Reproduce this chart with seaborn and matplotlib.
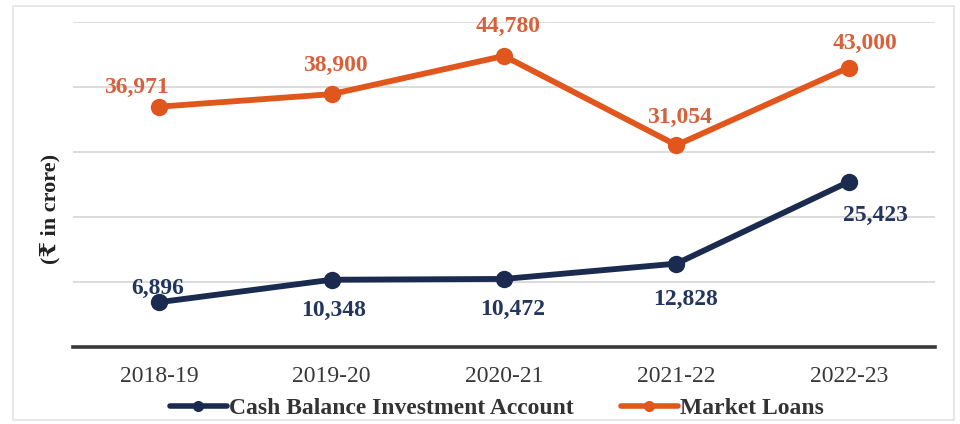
import matplotlib
matplotlib.use("Agg")
import matplotlib.pyplot as plt
import seaborn as sns
import pandas as pd
from matplotlib.patches import Rectangle

years = ["2018-19", "2019-20", "2020-21", "2021-22", "2022-23"]
cbia = [6896, 10348, 10472, 12828, 25423]
market_loans = [36971, 38900, 44780, 31054, 43000]
series_names = ["Cash Balance Investment Account", "Market Loans"]

df = pd.DataFrame({
    "year": years * 2,
    "value": cbia + market_loans,
    "series": [series_names[0]] * len(years) + [series_names[1]] * len(years),
})

sns.set_theme(style="white")
plt.rcParams["font.family"] = ["Liberation Serif", "DejaVu Serif", "DejaVu Sans"]

navy = "#1B2B4F"
orange = "#E0561C"
navy_txt = "#24365E"
orange_txt = "#D8603A"

fig = plt.figure(figsize=(9.6, 4.24), dpi=100)
ax = fig.add_axes([0.076, 0.1816, 0.898, 0.7665])

sns.lineplot(data=df, x="year", y="value", hue="series", palette=[navy, orange],
             marker="o", markersize=12.5, linewidth=4.2, markeredgewidth=0,
             sort=False, ax=ax)

ax.set_xlim(-0.5, 4.5)
ax.set_ylim(0, 50000)
ax.set_yticks([10000, 20000, 30000, 40000, 50000])
ax.set_yticklabels([])
ax.tick_params(axis="y", length=0)
ax.tick_params(axis="x", length=0, labelsize=17, labelcolor="#383838", pad=14)
ax.grid(axis="y", color="#D9D9D9", linewidth=1.3)
ax.set_axisbelow(True)
for s in ["top", "right", "left"]:
    ax.spines[s].set_visible(False)
ax.spines["bottom"].set_color("#3A3A3A")
ax.spines["bottom"].set_linewidth(2.6)
ax.set_xlabel("")
ax.set_ylabel("(₹ in crore)", fontsize=16, fontweight="bold", color="#222222")
ax.yaxis.set_label_coords(-0.015, 0.425)

# value labels (offsets in points)
navy_off = [(-1, 10), (1.5, -22), (6.5, -22), (6.5, -26), (19, -24)]
orange_off = [(-16.5, 14), (3, 21), (3, 21), (2, 20), (12, 17.5)]
for i, (v, off) in enumerate(zip(cbia, navy_off)):
    ax.annotate(f"{v:,}", (i, v), xytext=off, textcoords="offset points",
                ha="center", va="center", fontsize=17, fontweight="bold", color=navy_txt)
for i, (v, off) in enumerate(zip(market_loans, orange_off)):
    ax.annotate(f"{v:,}", (i, v), xytext=off, textcoords="offset points",
                ha="center", va="center", fontsize=17, fontweight="bold", color=orange_txt)

leg = ax.legend(loc="center", bbox_to_anchor=(0.492, (347 - 408) / 325), ncol=2, frameon=False,
                fontsize=17, handlelength=2.4, handletextpad=0.1, columnspacing=2.0,
                borderaxespad=0, borderpad=0)
for t in leg.get_texts():
    t.set_fontweight("bold")
    t.set_color("#333333")
for h in leg.legend_handles:
    h.set_markersize(8)
    h.set_linewidth(4)

fig.patches.append(Rectangle((0.014, 0.01), 0.98, 0.975, transform=fig.transFigure,
                             fill=False, edgecolor="#E3E3E3", linewidth=1.2))

fig.savefig("out.png", dpi=100)
